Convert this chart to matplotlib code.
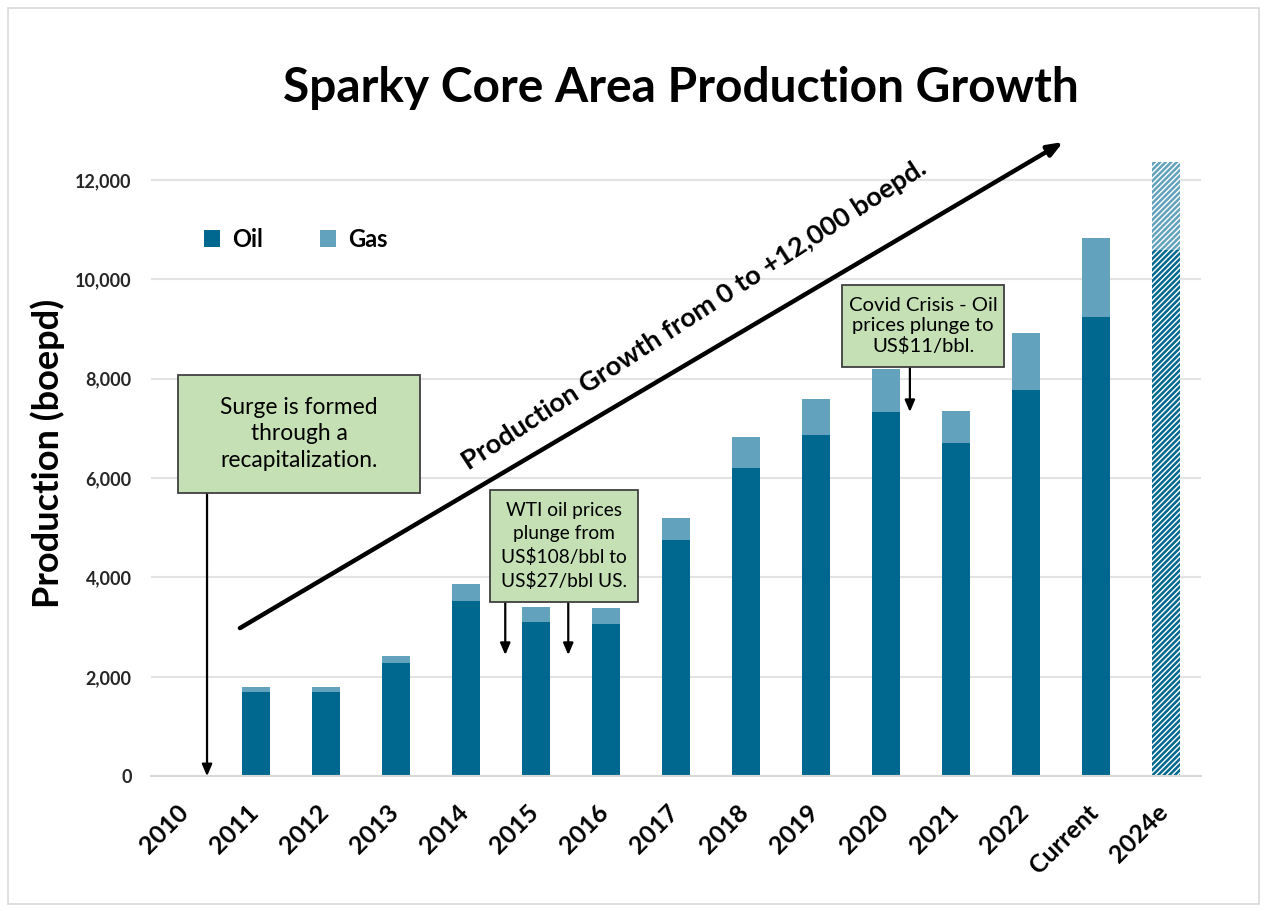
import matplotlib
matplotlib.use("Agg")
import matplotlib.pyplot as plt
from matplotlib.patches import Rectangle
from matplotlib.transforms import ScaledTranslation
import numpy as np

plt.rcParams['font.family'] = ['Lato', 'DejaVu Sans']
plt.rcParams['hatch.linewidth'] = 1.8

categories = ["2010", "2011", "2012", "2013", "2014", "2015", "2016", "2017",
              "2018", "2019", "2020", "2021", "2022", "Current", "2024e"]
oil = [0, 1700, 1700, 2280, 3520, 3100, 3060, 4750, 6200, 6870, 7330, 6710, 7770, 9250, 10600]
gas = [0, 100, 100, 140, 350, 300, 320, 450, 630, 720, 860, 640, 1150, 1580, 1770]
estimate_flags = [False] * 14 + [True]

yticks = [0, 2000, 4000, 6000, 8000, 10000, 12000]

OIL_C = "#00688F"
GAS_C = "#62A2BD"
BOX_C = "#C5E0B4"
BOX_EDGE = "#404040"

fig = plt.figure(figsize=(12.67, 9.11), dpi=100)
ax = fig.add_axes([0.1192, 0.148, 0.8288, 0.709])

x = np.arange(len(categories))
w = 0.4
for i in range(len(categories)):
    if estimate_flags[i]:
        ax.bar(x[i], oil[i], width=w, color="white", edgecolor=OIL_C, hatch="//////", linewidth=0)
        ax.bar(x[i], gas[i], bottom=oil[i], width=w, color="white", edgecolor=GAS_C, hatch="//////", linewidth=0)
    else:
        ax.bar(x[i], oil[i], width=w, color=OIL_C, linewidth=0)
        ax.bar(x[i], gas[i], bottom=oil[i], width=w, color=GAS_C, linewidth=0)

ax.set_xlim(-0.5, len(categories) - 0.5)
ax.set_ylim(0, 13000)
ax.set_yticks(yticks)
ax.set_yticklabels([f"{v:,}" for v in yticks], fontsize=13, fontweight="bold", color="#262626")
ax.set_xticks(x)
ax.tick_params(axis="both", length=0)
ax.tick_params(axis="y", pad=14)
ax.set_xticklabels(categories, fontsize=18, fontweight="bold", rotation=45,
                   ha="right", va="top", rotation_mode="anchor")
off = ScaledTranslation(-7 / 72, -14 / 72, fig.dpi_scale_trans)
for lab in ax.get_xticklabels():
    lab.set_transform(lab.get_transform() + off)
ax.grid(axis="y", color="#E3E3E3", linewidth=1.5)
ax.set_axisbelow(True)
for s in ["top", "right", "left"]:
    ax.spines[s].set_visible(False)
ax.spines["bottom"].set_color("#D9D9D9")
ax.spines["bottom"].set_linewidth(1.5)

ax.set_ylabel("Production (boepd)", fontsize=26, fontweight="bold", va="center")
ax.yaxis.set_label_coords(-0.098, 0.5)

fig.text(0.537, 0.903, "Sparky Core Area Production Growth", fontsize=34.5,
         fontweight="bold", ha="center", va="center")

# Legend
ax.bar([-10], [0], color=OIL_C, label="Oil")
ax.bar([-10], [0], color=GAS_C, label="Gas")
ax.legend(loc="upper left", bbox_to_anchor=(0.03, 0.882), ncol=2, frameon=False,
          prop={"size": 17, "weight": "bold"}, handlelength=0.7, handleheight=0.7,
          columnspacing=2.4, handletextpad=0.5)

# Growth arrow
ax.annotate("", xy=(12.53, 12765), xytext=(0.77, 2980),
            arrowprops=dict(arrowstyle="-|>,head_length=0.9,head_width=0.35",
                            color="black", lw=3.2, shrinkA=0, shrinkB=0))
ax.text(7.26, 9290, "Production Growth from 0 to +12,000 boepd.", fontsize=19.5,
        fontweight="bold", rotation=33, rotation_mode="anchor",
        ha="center", va="center")

ap = dict(arrowstyle="-|>,head_length=0.7,head_width=0.3", color="black", lw=1.6,
          shrinkA=0, shrinkB=0)


def note_box(x0, x1, y0, y1, text, fs, ls):
    ax.add_patch(Rectangle((x0, y0), x1 - x0, y1 - y0, facecolor=BOX_C,
                           edgecolor=BOX_EDGE, linewidth=1.3, zorder=4))
    ax.text((x0 + x1) / 2, (y0 + y1) / 2, text, fontsize=fs, ha="center",
            va="center", linespacing=ls, zorder=5)


# Annotation 1
note_box(-0.114, 3.343, 5700, 8075, "Surge is formed\nthrough a\nrecapitalization.", 16.4, 1.32)
ax.annotate("", xy=(0.3, 0), xytext=(0.3, 5700), arrowprops=ap)

# Annotation 2
note_box(4.343, 6.457, 3503, 5760, "WTI oil prices\nplunge from\nUS$108/bbl to\nUS$27/bbl US.", 13.8, 1.4)
ax.annotate("", xy=(4.56, 2440), xytext=(4.56, 3503), arrowprops=ap)
ax.annotate("", xy=(5.46, 2440), xytext=(5.46, 3503), arrowprops=ap)

# Annotation 3
note_box(9.371, 11.686, 8236, 9887, "Covid Crisis - Oil\nprices plunge to\nUS$11/bbl.", 14.6, 1.2)
ax.annotate("", xy=(10.34, 7330), xytext=(10.34, 8236), arrowprops=ap)

# Figure border
fig.add_artist(Rectangle((0.006, 0.008), 0.988, 0.983, transform=fig.transFigure,
                         fill=False, edgecolor="#D9D9D9", linewidth=1.2))

fig.savefig("out.png", dpi=100)
